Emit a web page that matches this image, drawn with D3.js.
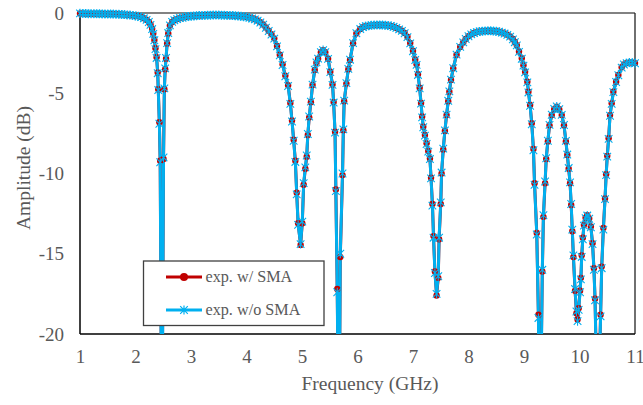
<!DOCTYPE html>
<html>
<head>
<meta charset="utf-8">
<script src="https://cdn.jsdelivr.net/npm/d3@7"></script>
<style>
  html, body { margin: 0; padding: 0; background: #fff; }
  svg { display: block; font-family: "Liberation Serif", "Times New Roman", serif; }
</style>
</head>
<body>
<div id="chart"></div>
<script>
const freqGHz = [
  1.00, 1.05, 1.10, 1.15, 1.20, 1.25, 1.30, 1.35, 1.40, 1.45, 1.50, 1.55, 1.60, 1.65, 1.70, 1.75, 1.80, 1.85, 1.90, 1.95,
  2.00, 2.05, 2.10, 2.15, 2.20, 2.24, 2.27, 2.30, 2.32, 2.34, 2.36, 2.38, 2.40, 2.41, 2.43, 2.445, 2.475, 2.505, 2.52, 2.535,
  2.55, 2.57, 2.59, 2.62, 2.66, 2.70, 2.75, 2.80, 2.85, 2.90, 2.95, 3.00, 3.05, 3.10, 3.15, 3.20, 3.25, 3.30, 3.35, 3.40,
  3.45, 3.50, 3.55, 3.60, 3.65, 3.70, 3.75, 3.80, 3.85, 3.90, 3.95, 4.00, 4.05, 4.10, 4.15, 4.20, 4.25, 4.30, 4.35, 4.40,
  4.45, 4.50, 4.55, 4.60, 4.65, 4.70, 4.75, 4.79, 4.82, 4.85, 4.88, 4.905, 4.93, 4.975, 5.005, 5.03, 5.06, 5.085, 5.105, 5.13,
  5.16, 5.19, 5.23, 5.26, 5.29, 5.34, 5.38, 5.42, 5.47, 5.51, 5.55, 5.57, 5.595, 5.61, 5.635, 5.665, 5.69, 5.73, 5.745, 5.76,
  5.80, 5.835, 5.865, 5.92, 5.98, 6.05, 6.10, 6.15, 6.20, 6.25, 6.30, 6.35, 6.40, 6.45, 6.50, 6.55, 6.60, 6.65, 6.70, 6.75,
  6.80, 6.85, 6.90, 6.95, 7.00, 7.04, 7.065, 7.09, 7.12, 7.145, 7.165, 7.185, 7.215, 7.245, 7.275, 7.305, 7.325, 7.35, 7.37, 7.395,
  7.425, 7.455, 7.47, 7.50, 7.515, 7.545, 7.575, 7.605, 7.635, 7.655, 7.685, 7.725, 7.785, 7.85, 7.905, 7.95, 8.00, 8.05, 8.10, 8.15,
  8.20, 8.25, 8.30, 8.35, 8.40, 8.45, 8.50, 8.55, 8.60, 8.65, 8.70, 8.75, 8.80, 8.835, 8.87, 8.91, 8.96, 8.99, 9.02, 9.06,
  9.08, 9.11, 9.14, 9.17, 9.19, 9.23, 9.26, 9.285, 9.33, 9.35, 9.38, 9.40, 9.43, 9.46, 9.50, 9.545, 9.59, 9.635, 9.68, 9.72,
  9.755, 9.78, 9.805, 9.83, 9.85, 9.87, 9.89, 9.92, 9.945, 9.965, 9.985, 10.01, 10.025, 10.04, 10.06, 10.08, 10.11, 10.14, 10.175, 10.205,
  10.235, 10.26, 10.28, 10.33, 10.38, 10.40, 10.43, 10.46, 10.48, 10.50, 10.525, 10.55, 10.58, 10.61, 10.66, 10.70, 10.76, 10.80, 10.85, 10.90,
  10.95, 11.00
];

// exp. w/ SMA (dB)
const ampWithSMA = [
  -0.03, -0.03, -0.04, -0.04, -0.04, -0.05, -0.05, -0.05, -0.05, -0.06, -0.06, -0.06, -0.07, -0.07, -0.08, -0.09, -0.10, -0.11, -0.13, -0.15,
  -0.17, -0.20, -0.25, -0.32, -0.42, -0.55, -0.72, -0.98, -1.27, -1.68, -2.20, -2.75, -3.70, -4.75, -6.80, -9.20, -28.0, -9.10, -4.75, -3.50,
  -2.85, -1.90, -1.27, -0.78, -0.56, -0.45, -0.38, -0.32, -0.28, -0.25, -0.22, -0.20, -0.18, -0.17, -0.16, -0.15, -0.14, -0.14, -0.13, -0.13,
  -0.13, -0.13, -0.13, -0.14, -0.14, -0.15, -0.16, -0.17, -0.18, -0.20, -0.22, -0.25, -0.28, -0.33, -0.39, -0.47, -0.58, -0.72, -0.90, -1.10,
  -1.32, -1.58, -2.05, -2.60, -3.20, -3.90, -4.50, -5.60, -6.70, -7.90, -9.20, -11.2, -13.1, -14.45, -13.1, -10.7, -9.70, -8.95, -7.60, -6.50,
  -5.56, -4.49, -3.55, -3.10, -2.85, -2.45, -2.32, -2.45, -2.85, -3.66, -4.45, -5.55, -7.40, -11.0, -17.2, -28.0, -15.2, -10.1, -7.30, -5.50,
  -4.40, -3.50, -2.93, -1.89, -1.27, -1.00, -0.88, -0.82, -0.79, -0.77, -0.76, -0.75, -0.75, -0.75, -0.76, -0.78, -0.81, -0.86, -0.93, -1.01,
  -1.10, -1.25, -1.48, -1.87, -2.35, -2.90, -3.20, -3.82, -4.65, -5.60, -6.45, -7.08, -7.60, -8.12, -8.60, -9.06, -10.26, -11.9, -13.9, -16.1,
  -17.6, -16.5, -14.1, -11.9, -10.0, -8.50, -7.35, -6.36, -5.50, -4.90, -4.17, -3.45, -2.60, -2.12, -1.84, -1.62, -1.45, -1.33, -1.25, -1.19,
  -1.15, -1.13, -1.12, -1.11, -1.11, -1.12, -1.14, -1.17, -1.21, -1.27, -1.35, -1.46, -1.62, -1.80, -2.00, -2.40, -2.82, -3.25, -3.66, -4.28,
  -4.90, -5.73, -6.87, -8.47, -10.6, -13.7, -18.8, -28.0, -16.1, -12.7, -10.6, -9.10, -8.00, -7.00, -6.36, -6.00, -5.84, -6.00, -6.36, -7.00,
  -8.00, -8.85, -9.70, -10.6, -11.96, -13.6, -15.2, -17.3, -18.7, -19.1, -18.4, -17.3, -16.5, -15.1, -14.0, -13.2, -12.75, -12.6, -12.8, -13.3,
  -14.35, -15.9, -17.8, -26.0, -18.8, -15.8, -13.4, -11.55, -10.05, -8.90, -7.80, -6.36, -5.63, -4.90, -4.28, -3.86, -3.38, -3.20, -3.12, -3.08,
  -3.08, -3.12
];

// exp. w/o SMA (dB)
const ampWithoutSMA = [
  -0.02, -0.03, -0.03, -0.04, -0.04, -0.04, -0.05, -0.05, -0.06, -0.06, -0.06, -0.07, -0.07, -0.08, -0.08, -0.09, -0.10, -0.12, -0.13, -0.15,
  -0.18, -0.21, -0.26, -0.33, -0.43, -0.56, -0.74, -1.00, -1.30, -1.70, -2.25, -2.80, -3.75, -4.80, -6.90, -9.30, -30.0, -9.00, -4.70, -3.45,
  -2.80, -1.88, -1.25, -0.77, -0.55, -0.45, -0.38, -0.32, -0.28, -0.25, -0.22, -0.20, -0.18, -0.17, -0.16, -0.15, -0.15, -0.14, -0.14, -0.13,
  -0.13, -0.13, -0.14, -0.14, -0.15, -0.15, -0.16, -0.17, -0.19, -0.20, -0.23, -0.25, -0.29, -0.34, -0.40, -0.48, -0.59, -0.73, -0.92, -1.12,
  -1.34, -1.60, -2.08, -2.64, -3.24, -3.94, -4.55, -5.66, -6.76, -7.96, -9.28, -11.3, -13.2, -14.4, -13.0, -10.6, -9.62, -8.88, -7.54, -6.45,
  -5.52, -4.46, -3.53, -3.08, -2.84, -2.44, -2.31, -2.44, -2.86, -3.68, -4.48, -5.58, -7.45, -11.1, -17.4, -30.0, -15.0, -10.0, -7.25, -5.46,
  -4.37, -3.48, -2.91, -1.88, -1.26, -1.00, -0.88, -0.82, -0.79, -0.77, -0.75, -0.75, -0.74, -0.75, -0.76, -0.78, -0.81, -0.86, -0.93, -1.02,
  -1.11, -1.26, -1.50, -1.89, -2.38, -2.93, -3.23, -3.86, -4.70, -5.65, -6.50, -7.12, -7.64, -8.16, -8.64, -9.10, -10.3, -12.0, -14.0, -16.2,
  -17.5, -16.4, -14.0, -11.8, -9.94, -8.45, -7.31, -6.33, -5.47, -4.88, -4.15, -3.44, -2.59, -2.11, -1.83, -1.62, -1.45, -1.33, -1.25, -1.19,
  -1.15, -1.13, -1.12, -1.11, -1.11, -1.12, -1.14, -1.17, -1.22, -1.28, -1.36, -1.47, -1.64, -1.82, -2.02, -2.42, -2.85, -3.28, -3.70, -4.32,
  -4.95, -5.78, -6.93, -8.55, -10.7, -13.8, -19.0, -30.0, -16.0, -12.6, -10.5, -9.05, -7.96, -6.97, -6.34, -5.98, -5.82, -5.99, -6.35, -6.98,
  -7.97, -8.82, -9.66, -10.55, -11.9, -13.5, -15.1, -17.2, -18.6, -19.2, -18.5, -17.4, -16.6, -15.2, -14.1, -13.25, -12.78, -12.62, -12.82, -13.35,
  -14.4, -16.0, -17.9, -27.0, -18.9, -15.9, -13.5, -11.6, -10.1, -8.95, -7.84, -6.40, -5.66, -4.93, -4.30, -3.88, -3.40, -3.21, -3.13, -3.09,
  -3.09, -3.13
];

// --- Axis ticks & labels ---
const xTicks = [1, 2, 3, 4, 5, 6, 7, 8, 9, 10, 11];
const yTicks = [0, -5, -10, -15, -20];
const seriesNames = ["exp. w/ SMA", "exp. w/o SMA"];

// --- Dimensions / colours ---
const width = 643, height = 405;
const plot = { left: 80, right: 635, top: 13, bottom: 334 };
const colors = { red: "#C00000", blue: "#00B0F0", text: "#595959", axis: "#000000", frame: "#595959" };

const svg = d3.select("#chart").append("svg")
  .attr("width", width)
  .attr("height", height);

const x = d3.scaleLinear().domain([1, 11]).range([plot.left, plot.right]);
const y = d3.scaleLinear().domain([-20, 0]).range([plot.bottom, plot.top]);

const withSMA = freqGHz.map((f, i) => ({ f, v: ampWithSMA[i] }));
const withoutSMA = freqGHz.map((f, i) => ({ f, v: ampWithoutSMA[i] }));

// --- Axes (labels only, no tick marks; plain hyphen for negatives) ---
const plain = d => String(d);
const xAxis = svg.append("g")
  .attr("transform", `translate(0,${plot.bottom})`)
  .call(d3.axisBottom(x).tickValues(xTicks).tickSize(0).tickPadding(15.5).tickFormat(plain));
const yAxis = svg.append("g")
  .attr("transform", `translate(${plot.left},0)`)
  .call(d3.axisLeft(y).tickValues(yTicks).tickSize(0).tickPadding(16).tickFormat(plain));

[xAxis, yAxis].forEach(a => {
  a.select(".domain").remove();
  a.selectAll("text")
    .attr("fill", colors.text)
    .style("font-family", "'Liberation Serif', serif")
    .style("font-size", "19px");
});

// --- Plot frame ---
svg.append("line")
  .attr("x1", plot.left).attr("x2", plot.right)
  .attr("y1", plot.top).attr("y2", plot.top)
  .attr("stroke", colors.frame).attr("stroke-width", 1.3);
svg.append("line")
  .attr("x1", plot.right).attr("x2", plot.right)
  .attr("y1", plot.top).attr("y2", plot.bottom)
  .attr("stroke", "#222").attr("stroke-width", 1.3);
svg.append("line")
  .attr("x1", plot.left).attr("x2", plot.left)
  .attr("y1", plot.top).attr("y2", plot.bottom)
  .attr("stroke", colors.axis).attr("stroke-width", 1.5);
svg.append("line")
  .attr("x1", plot.left).attr("x2", plot.right)
  .attr("y1", plot.bottom).attr("y2", plot.bottom)
  .attr("stroke", colors.axis).attr("stroke-width", 1.5);

// --- Series (lines first, then markers, like the spreadsheet renderer) ---
svg.append("clipPath").attr("id", "plot-clip")
  .append("rect")
  .attr("x", plot.left - 6).attr("y", 0)
  .attr("width", plot.right - plot.left + 14)
  .attr("height", plot.bottom);

const series = svg.append("g").attr("clip-path", "url(#plot-clip)");

const line = d3.line().x(d => x(d.f)).y(d => y(d.v));

series.append("path")
  .datum(withSMA)
  .attr("d", line)
  .attr("fill", "none")
  .attr("stroke", colors.red)
  .attr("stroke-width", 3)
  .attr("stroke-linejoin", "round");

series.append("path")
  .datum(withoutSMA)
  .attr("d", line)
  .attr("fill", "none")
  .attr("stroke", colors.blue)
  .attr("stroke-width", 3)
  .attr("stroke-linejoin", "round");

series.selectAll("circle.sma")
  .data(withSMA)
  .join("circle")
  .attr("class", "sma")
  .attr("cx", d => x(d.f))
  .attr("cy", d => y(d.v))
  .attr("r", 3.2)
  .attr("fill", colors.red);

const star = "M0,-4.5V4.5M-3.8,-3.8L3.8,3.8M-3.8,3.8L3.8,-3.8";

series.selectAll("path.nosma")
  .data(withoutSMA)
  .join("path")
  .attr("class", "nosma")
  .attr("transform", d => `translate(${x(d.f)},${y(d.v)})`)
  .attr("d", star)
  .attr("fill", "none")
  .attr("stroke", colors.blue)
  .attr("stroke-width", 1.1);

// --- Axis titles ---
svg.append("text")
  .attr("x", 370)
  .attr("y", 390)
  .attr("text-anchor", "middle")
  .attr("fill", colors.text)
  .style("font-size", "19.5px")
  .text("Frequency (GHz)");

svg.append("text")
  .attr("transform", "translate(23,168) rotate(-90)")
  .attr("text-anchor", "middle")
  .attr("dominant-baseline", "central")
  .attr("fill", colors.text)
  .style("font-size", "19.5px")
  .text("Amplitude (dB)");

// --- Legend ---
const legend = svg.append("g");
legend.append("rect")
  .attr("x", 143.5).attr("y", 261)
  .attr("width", 180.5).attr("height", 64.5)
  .attr("fill", "#fff")
  .attr("stroke", "#404040")
  .attr("stroke-width", 1.3);

const legendRows = [
  { name: seriesNames[0], color: colors.red, marker: "circle", y: 277 },
  { name: seriesNames[1], color: colors.blue, marker: "star", y: 310 }
];

legendRows.forEach(r => {
  legend.append("line")
    .attr("x1", 166).attr("x2", 202)
    .attr("y1", r.y).attr("y2", r.y)
    .attr("stroke", r.color).attr("stroke-width", 3);
  if (r.marker === "circle") {
    legend.append("circle")
      .attr("cx", 184).attr("cy", r.y).attr("r", 4)
      .attr("fill", r.color);
  } else {
    legend.append("path")
      .attr("transform", `translate(184,${r.y})`)
      .attr("d", star)
      .attr("fill", "none")
      .attr("stroke", r.color)
      .attr("stroke-width", 1.2);
  }
  legend.append("text")
    .attr("x", 205.5)
    .attr("y", r.y)
    .attr("dominant-baseline", "central")
    .attr("fill", colors.text)
    .style("font-size", "16.2px")
    .text(r.name);
});
</script>
</body>
</html>
